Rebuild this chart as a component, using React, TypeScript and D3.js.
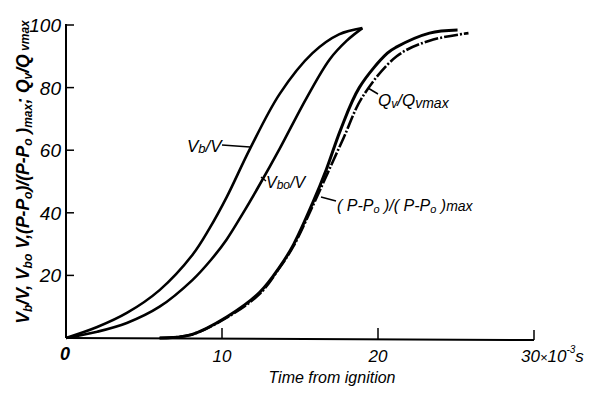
import React from "react";
import * as d3 from "d3";

const xTicks = [10, 20];
const yTicks = [20, 40, 60, 80, 100];

const vbT = [0, 2, 3.9, 6, 8.1, 9.2, 10.3, 11.8, 13.7, 15.8, 17.5, 19.0];
const vbV = [0, 3.5, 8, 15.3, 26.5, 35, 45, 60.5, 78, 91, 97, 99];

const vboT = [0, 2, 3.9, 6, 8.1, 9.3, 10.3, 11.3, 12.3, 13.7, 15.4, 16.9, 18.0, 19.0];
const vboV = [0, 2, 4.8, 10, 18.5, 25, 31.5, 39.5, 48, 60.5, 76.5, 89, 95, 99];

const pT = [6, 8, 10.3, 12.4, 13.7, 14.6, 15.8, 16.7, 17.6, 18.8, 20.6, 21.2, 23.3, 25.1];
const pV = [0, 1, 6.7, 14.5, 22.7, 30, 43, 54, 66.5, 80, 91, 93, 97.4, 98.4];

const qT = [6, 8, 10.3, 12.4, 13.7, 14.6, 15.8, 16.8, 17.8, 19.0, 21.2, 23.3, 25.8];
const qV = [0, 1, 6.5, 14, 22.5, 29.5, 42, 53, 64, 77, 90, 95, 97.4];

const FONT = "'Liberation Sans', Arial, sans-serif";

export default function App() {
  const x = d3.scaleLinear().domain([0, 30]).range([66, 534]);
  const y = d3.scaleLinear().domain([0, 100]).range([338, 25]);
  const line = d3
    .line<[number, number]>()
    .x((d) => x(d[0]))
    .y((d) => y(d[1]))
    .curve(d3.curveCatmullRom.alpha(0.5));
  const zip = (a: number[], b: number[]) => a.map((t, i) => [t, b[i]] as [number, number]);

  return (
    <svg width={596} height={394} style={{ position: "absolute", left: 0, top: 0, background: "#fff" }}>
      <rect x={0} y={0} width={596} height={394} fill="#fff" />
      {/* axes */}
      <line x1={x(0)} y1={y(100) - 1} x2={x(0)} y2={y(0)} stroke="#000" strokeWidth={2} />
      <line x1={x(0)} y1={y(0)} x2={x(30)} y2={y(0) + 2} stroke="#000" strokeWidth={2} />
      {yTicks.map((v) => (
        <g key={"y" + v}>
          <line x1={x(0)} x2={x(0) + 8} y1={y(v)} y2={y(v)} stroke="#000" strokeWidth={1.5} />
          <text x={61} y={y(v) + 7} textAnchor="end" fontFamily={FONT} fontStyle="italic" fontSize={19}>
            {v}
          </text>
        </g>
      ))}
      {xTicks.map((v) => (
        <g key={"x" + v}>
          <line x1={x(v)} x2={x(v)} y1={y(0) + 1} y2={y(0) - 10} stroke="#000" strokeWidth={1.5} />
          <text x={x(v)} y={362} textAnchor="middle" fontFamily={FONT} fontStyle="italic" fontSize={17}>
            {v}
          </text>
        </g>
      ))}
      <line x1={x(30)} x2={x(30)} y1={y(0) + 2} y2={y(0) - 8} stroke="#000" strokeWidth={1.5} />
      <text x={521} y={362} fontFamily={FONT} fontStyle="italic" fontSize={17}>
        30
        <tspan fontSize={13}>×</tspan>
        10
        <tspan fontSize={10} dy={-9}>-3</tspan>
        <tspan dy={9}>s</tspan>
      </text>
      <text x={65} y={360} textAnchor="middle" fontFamily={FONT} fontStyle="italic" fontWeight="bold" fontSize={18}>
        0
      </text>
      <text x={332} y={383} textAnchor="middle" fontFamily={FONT} fontStyle="italic" fontSize={16}>
        Time from ignition
      </text>
      {/* y-axis title */}
      <text
        transform="translate(29,172) rotate(-90)"
        textAnchor="middle"
        fontFamily={FONT}
        fontStyle="italic"
        fontWeight="bold"
        fontSize={17.5}
      >
        V<tspan fontSize={12} dy={3}>b</tspan>
        <tspan dy={-3}>/V, V</tspan>
        <tspan fontSize={12} dy={3}>bo</tspan>
        <tspan dy={-3}> V,(P-P</tspan>
        <tspan fontSize={12} dy={3}>o</tspan>
        <tspan dy={-3}>)/(P-P</tspan>
        <tspan fontSize={12} dy={3}>o</tspan>
        <tspan dy={-3}> )</tspan>
        <tspan fontSize={12} dy={3}>max</tspan>
        <tspan dy={-3}>; Q</tspan>
        <tspan fontSize={12} dy={3}>v</tspan>
        <tspan dy={-3}>/Q</tspan>
        <tspan fontSize={12}> vmax</tspan>
      </text>
      {/* curves */}
      <path d={line(zip(vbT, vbV)) || ""} fill="none" stroke="#000" strokeWidth={2.6} />
      <path d={line(zip(vboT, vboV)) || ""} fill="none" stroke="#000" strokeWidth={2.6} />
      <path d={line(zip(qT, qV)) || ""} fill="none" stroke="#000" strokeWidth={2.6} strokeDasharray="14 2 2 2" />
      <path d={line(zip(pT, pV)) || ""} fill="none" stroke="#000" strokeWidth={3} />
      {/* curve labels */}
      <line x1={222} y1={145} x2={250} y2={147} stroke="#000" strokeWidth={1.5} />
      <text x={187} y={152} fontFamily={FONT} fontStyle="italic" fontSize={17}>
        V<tspan fontSize={13} dy={1}>b</tspan>
        <tspan dy={-1}>/V</tspan>
      </text>
      <line x1={261} y1={177} x2={266} y2={181} stroke="#000" strokeWidth={1.5} />
      <text x={266} y={188} fontFamily={FONT} fontStyle="italic" fontSize={16}>
        V<tspan fontSize={12} dy={1}>bo</tspan>
        <tspan dy={-1}>/V</tspan>
      </text>
      <line x1={368} y1={88} x2={378} y2={94} stroke="#000" strokeWidth={1.5} />
      <text x={378} y={106} fontFamily={FONT} fontStyle="italic" fontSize={17}>
        Q<tspan fontSize={12} dy={2}>v</tspan>
        <tspan dy={-2}>/Q</tspan>
        <tspan fontSize={14} dy={2}>vmax</tspan>
      </text>
      <line x1={321} y1={197} x2={336} y2={201} stroke="#000" strokeWidth={1.5} />
      <text x={337} y={211} fontFamily={FONT} fontStyle="italic" fontSize={16}>
        ( P-P<tspan fontSize={11} dy={2}>o</tspan>
        <tspan dy={-2}> )/( P-P</tspan>
        <tspan fontSize={11} dy={2}>o</tspan>
        <tspan dy={-2}> )</tspan>
        <tspan fontSize={14}>max</tspan>
      </text>
    </svg>
  );
}
